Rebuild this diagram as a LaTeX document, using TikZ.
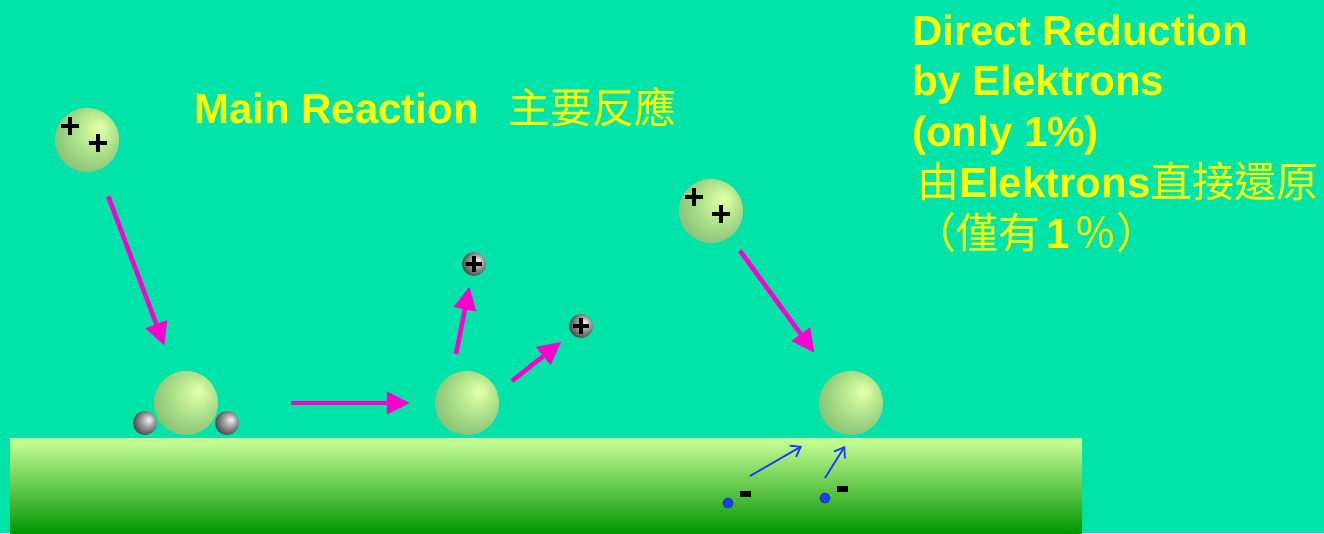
\documentclass[tikz,border=0pt]{standalone}
\usepackage{fontspec}
\setmainfont{Liberation Sans}
\newfontfamily\zh{Noto Sans CJK TC}
\usetikzlibrary{arrows.meta}

\definecolor{pool}{RGB}{0,228,170}
\definecolor{slogan}{RGB}{255,255,0}
\definecolor{push}{RGB}{255,0,204}
\definecolor{eblue}{RGB}{25,60,255}
\definecolor{groundtop}{RGB}{204,255,153}
\definecolor{groundbot}{RGB}{0,150,0}
\definecolor{gbhi}{RGB}{222,255,165}
\definecolor{gbmid}{RGB}{172,224,138}
\definecolor{gbedge}{RGB}{126,186,114}
\definecolor{mhi}{RGB}{232,232,232}
\definecolor{mmid}{RGB}{150,150,150}
\definecolor{medge}{RGB}{60,60,60}

% balls lit from the upper right
\pgfdeclareradialshading{greenball}{\pgfpoint{10bp}{10bp}}{color(0bp)=(gbhi); color(2bp)=(gbhi); color(17bp)=(gbmid); color(35bp)=(gbedge); color(50bp)=(gbedge)}
\pgfdeclareradialshading{greyball}{\pgfpoint{8bp}{8bp}}{color(0bp)=(mhi); color(2bp)=(mhi); color(15bp)=(mmid); color(32bp)=(medge); color(50bp)=(medge)}

\tikzset{
% atoms, ions and electrons
atom/.style={circle,inner sep=0,minimum size=64pt,shading=greenball},
metal/.style={circle,inner sep=0,minimum size=24pt,shading=greyball},
e dot/.style={circle,inner sep=0,minimum size=10pt,fill=eblue,draw=eblue!75!black,line width=0.8pt},
minus/.style={fill=black,inner sep=0,minimum width=11pt,minimum height=6pt},
big plus/.pic={\draw[line width=4.5pt] (-9.3,0) -- (9.3,0) (0,-9.3) -- (0,9.3);},
small plus/.pic={\draw[line width=4.5pt] (-8,0) -- (8,0) (0,-8) -- (0,8);},
% arrows
push arrow/.style={draw=push,line width=4.5pt,-{Triangle[length=23pt,width=22pt]}},
kick arrow/.style={draw=eblue,line width=1.8pt,-{Straight Barb[length=9pt,width=13pt]}},
title/.style={text=slogan,font=\bfseries\fontsize{42}{50}\selectfont,inner sep=0,anchor=base west}
}

\begin{document}
\begin{tikzpicture}[x=1pt,y=-1pt]
\useasboundingbox (0,0) rectangle (1324,533);
\fill[pool] (0,0) rectangle (1324,533);
\shade[top color=groundtop,bottom color=groundbot] (10,438) rectangle (1082,533);

% main reaction
\node[atom] (ion1) at (87,140) {};
\pic at (70,126) {big plus};
\pic at (98,143) {big plus};
\node[metal] (m1) at (145,423) {};
\node[metal] (m2) at (227,423) {};
\node[atom] (ball1) at (186,403) {};
\node[atom] (ball2) at (467,403) {};
\node[metal] (p1) at (474,264) {};
\pic at (p1) {small plus};
\node[metal] (p2) at (581,326) {};
\pic at (p2) {small plus};
\coordinate (rise1) at (456,354);
\coordinate (rise2) at (512,381);

\draw[push arrow,shorten <=28pt,shorten >=29pt] (ion1) -- (ball1);
\draw[push arrow,shorten <=73pt,shorten >=25pt] (ball1) -- (ball2);
\draw[push arrow,shorten >=11pt] (rise1) -- (p1);
\draw[push arrow,shorten >=13pt] (rise2) -- (p2);

% direct reduction
\node[atom] (ion2) at (711,211) {};
\pic at (694,197) {big plus};
\pic at (721,214) {big plus};
\node[atom] (ball3) at (851,403) {};
\draw[push arrow,shorten <=17pt,shorten >=30pt] (ion2) -- (ball3);

\node[e dot] (e1) at (728,503) {};
\node[minus] (neg1) at (745.5,494) {};
\node[e dot] (e2) at (825,498) {};
\node[minus] (neg2) at (842.5,489) {};
\coordinate (kick1) at (750,476);
\coordinate (hit1) at (802,446);
\coordinate (kick2) at (825,478);
\coordinate (hit2) at (845,446);
\draw[kick arrow] (kick1) -- (hit1);
\draw[kick arrow] (kick2) -- (hit2);

% labels
\node[title] (main) at (194,123.5) {Main Reaction};
\node[title] (mainzh) at (508,123.5) {\zh\mdseries 主要反應};
\node[title] (line1) at (912,45) {Direct Reduction};
\node[title] (line2) at (912,95) {by Elektrons};
\node[title] (line3) at (912,146) {(only 1\%)};
\node[title] (line4) at (917,197) {{\zh\mdseries 由}Elektrons{\zh\mdseries 直接還原}};
\node[title] (line5) at (914,248) {{\zh\mdseries （僅有}\hspace{6pt}1\hspace{5pt}{\zh\mdseries ％）}};
\end{tikzpicture}
\end{document}
